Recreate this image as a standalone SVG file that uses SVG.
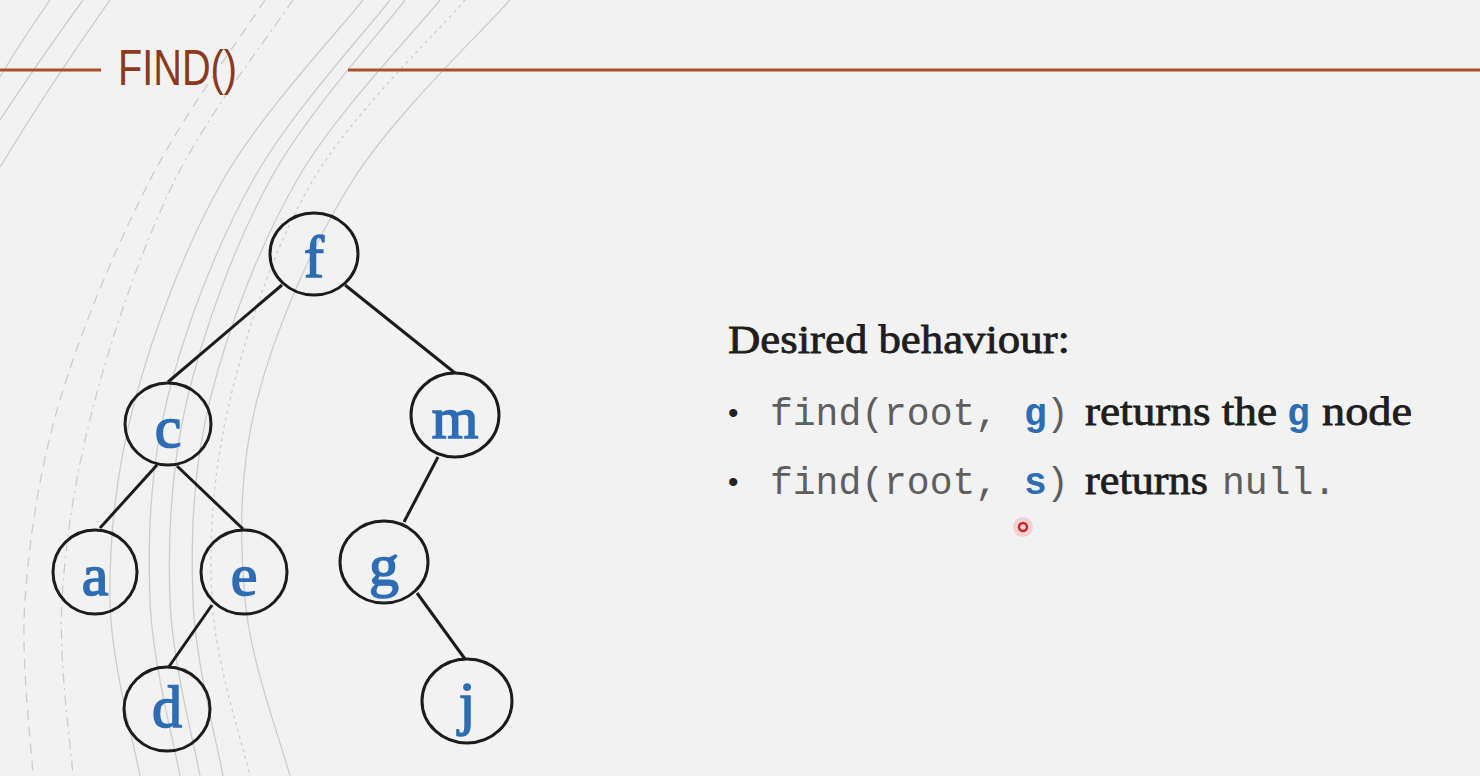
<svg xmlns="http://www.w3.org/2000/svg" width="1480" height="776" viewBox="0 0 1480 776">
<style>
.bgarc{fill:none;stroke:#cdcdcd;stroke-width:1.3}
.dash{stroke-dasharray:10 7}
.dashdot{stroke-dasharray:10 5 2 5}
.dot{stroke-dasharray:3 4}
.rule{stroke:#a94f30;stroke-width:3}
.node ellipse{fill:none;stroke:#1c1c1c;stroke-width:3}
.node text{font-family:"Liberation Serif","DejaVu Serif",serif;font-size:60px;fill:#2e6db4;stroke:#2e6db4;stroke-width:1.6;text-anchor:middle}
.edge{stroke:#1c1c1c;stroke-width:3;fill:none}
.mono{font-family:"Liberation Mono","DejaVu Sans Mono",monospace;font-size:38px;fill:#5e5e5e}
.key{font-family:"Liberation Mono","DejaVu Sans Mono",monospace;font-size:38px;font-weight:bold;fill:#2e6db4}
.serif{font-family:"Liberation Serif","DejaVu Serif",serif;font-size:41px;fill:#1e1e1e;stroke:#1e1e1e;stroke-width:0.8}
.bullet{font-family:"Liberation Sans",sans-serif;font-size:30px;fill:#222}
</style>
<rect x="0" y="0" width="1480" height="776" fill="#f2f2f2"/>
<g id="background-arcs">
<path class="bgarc" d="M0,77 Q22,40 50,0"/>
<path class="bgarc" d="M0,120 Q38,62 83,0"/>
<path class="bgarc" d="M0,167 Q50,85 110,0"/>
<path class="bgarc dash" d="M265,0 C245.8,30 184.2,113.3 150,180 C115.8,246.7 80.8,330 60,400 C39.2,470 29.5,537.3 25,600 C20.5,662.7 31.7,746.7 33,776"/>
<path class="bgarc dashdot" d="M293,0 C273.3,30 208,113.3 175,180 C142,246.7 113.8,330 95,400 C76.2,470 65.7,537.3 62,600 C58.3,662.7 71.2,746.7 73,776"/>
<path class="bgarc" d="M363,0 C339.7,30 261,113.3 223,180 C185,246.7 153.8,330 135,400 C116.2,470 109.2,537.3 110,600 C110.8,662.7 135,746.7 140,776"/>
<path class="bgarc" d="M390,0 C367.2,30 290.2,113.3 253,180 C215.8,246.7 184.2,330 167,400 C149.8,470 147.8,537.3 150,600 C152.2,662.7 175,746.7 180,776"/>
<path class="bgarc" d="M405,0 C382.5,30 306.3,113.3 270,180 C233.7,246.7 203.7,330 187,400 C170.3,470 167.8,537.3 170,600 C172.2,662.7 195,746.7 200,776"/>
<path class="bgarc" d="M440,0 C416.2,30 335.3,113.3 297,180 C258.7,246.7 227.3,330 210,400 C192.7,470 190.8,537.3 193,600 C195.2,662.7 218,746.7 223,776"/>
<path class="bgarc dot" d="M465,0 C439.7,30 352.2,113.3 313,180 C273.8,246.7 246.8,330 230,400 C213.2,470 208.7,537.3 212,600 C215.3,662.7 243.7,746.7 250,776"/>
<path class="bgarc" d="M510,0 C483.8,30 395.2,113.3 353,180 C310.8,246.7 275,330 257,400 C239,470 239.5,537.3 245,600 C250.5,662.7 282.5,746.7 290,776"/>
</g>
<g id="title">
<line class="rule" x1="0" y1="70" x2="101" y2="70"/>
<line class="rule" x1="348" y1="70" x2="1480" y2="70"/>
<text x="118" y="85" font-family="'Liberation Sans Narrow','Liberation Sans',sans-serif" font-size="50" fill="#8b3a1e" textLength="119" lengthAdjust="spacingAndGlyphs">FIND()</text>
</g>
<g id="connectors">
<line class="edge" x1="282" y1="285" x2="168" y2="382"/>
<line class="edge" x1="345" y1="285" x2="455" y2="373"/>
<line class="edge" x1="157" y1="465" x2="100" y2="528"/>
<line class="edge" x1="177" y1="466" x2="243" y2="529"/>
<line class="edge" x1="212" y1="605" x2="168" y2="668"/>
<line class="edge" x1="438" y1="457" x2="404" y2="522"/>
<line class="edge" x1="417" y1="593" x2="465" y2="659"/>
</g>
<g id="node-f" class="node"><ellipse cx="314" cy="254" rx="44" ry="41"/><text x="314" y="277">f</text></g>
<g id="node-c" class="node"><ellipse cx="168" cy="424" rx="43" ry="41"/><text x="168" y="447">c</text></g>
<g id="node-m" class="node"><ellipse cx="455" cy="415" rx="44" ry="42"/><text x="455" y="438">m</text></g>
<g id="node-a" class="node"><ellipse cx="95" cy="572" rx="42" ry="42"/><text x="95" y="595">a</text></g>
<g id="node-e" class="node"><ellipse cx="244" cy="572" rx="43" ry="42"/><text x="244" y="595">e</text></g>
<g id="node-g" class="node"><ellipse cx="384" cy="562" rx="44" ry="41"/><text x="384" y="585">g</text></g>
<g id="node-d" class="node"><ellipse cx="167" cy="709" rx="43" ry="42"/><text x="167" y="727">d</text></g>
<g id="node-j" class="node"><ellipse cx="467" cy="701" rx="45" ry="42"/><text x="467" y="723">j</text></g>
<g id="description">
<text class="serif" x="728" y="353" textLength="342" lengthAdjust="spacingAndGlyphs">Desired behaviour:</text>
<text class="bullet" x="728" y="423">•</text>
<text class="mono" x="770" y="425">find(root,</text>
<text class="key" x="1024" y="425">g</text>
<text class="mono" x="1046" y="425">)</text>
<text class="serif" x="1085" y="425" textLength="192" lengthAdjust="spacingAndGlyphs">returns the</text>
<text class="key" x="1287" y="425">g</text>
<text class="serif" x="1322" y="425" textLength="90" lengthAdjust="spacingAndGlyphs">node</text>
<text class="bullet" x="728" y="492">•</text>
<text class="mono" x="770" y="494">find(root,</text>
<text class="key" x="1024" y="494">s</text>
<text class="mono" x="1046" y="494">)</text>
<text class="serif" x="1085" y="494" textLength="123" lengthAdjust="spacingAndGlyphs">returns</text>
<text class="mono" x="1222" y="494">null.</text>
</g>
<g id="cursor">
<circle cx="1023" cy="527" r="10" fill="#f4c4c4" opacity="0.7"/>
<circle cx="1023" cy="527" r="4" fill="none" stroke="#c82828" stroke-width="2.5"/>
</g>
</svg>
